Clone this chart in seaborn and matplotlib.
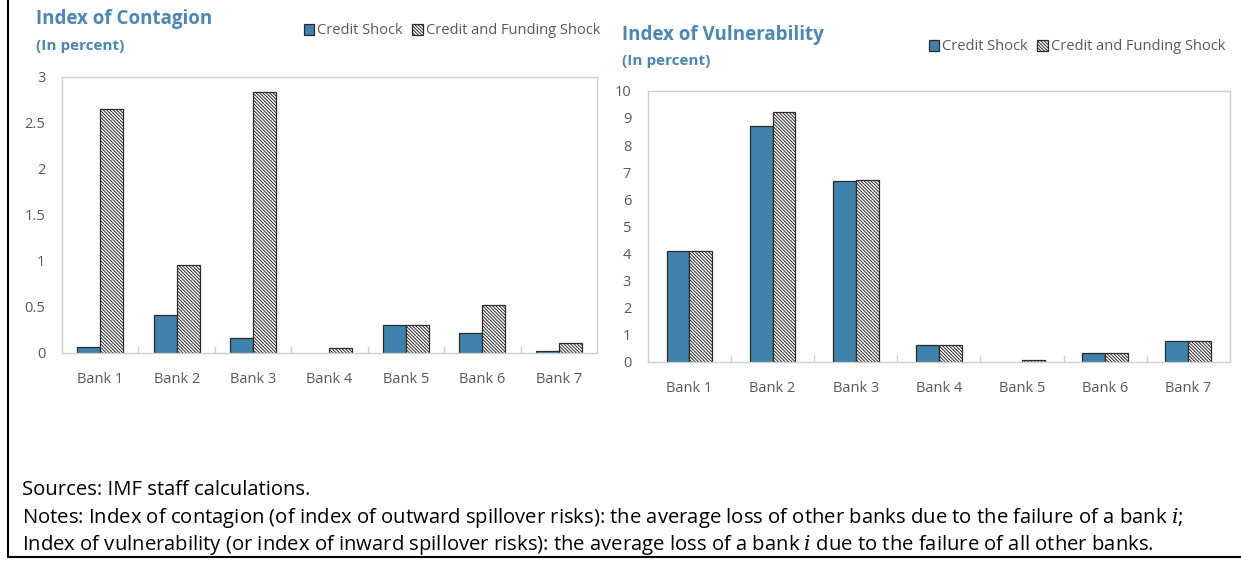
import numpy as np
import pandas as pd
import matplotlib
matplotlib.use('Agg')
import matplotlib.pyplot as plt
import seaborn as sns

"""two panel bar chart: index of contagion and index of vulnerability per bank"""

banks = ['Bank 1', 'Bank 2', 'Bank 3', 'Bank 4', 'Bank 5', 'Bank 6', 'Bank 7']
series = ['Credit Shock', 'Credit and Funding Shock']

contagion_credit = [0.06, 0.41, 0.16, 0.0, 0.30, 0.22, 0.02]
contagion_funding = [2.65, 0.95, 2.84, 0.05, 0.30, 0.52, 0.11]

vulnerability_credit = [4.1, 8.7, 6.67, 0.62, 0.0, 0.33, 0.78]
vulnerability_funding = [4.1, 9.22, 6.72, 0.62, 0.07, 0.33, 0.78]

contagion_ticks = [0, 0.5, 1, 1.5, 2, 2.5, 3]
contagion_labels = ['0', '0.5', '1', '1.5', '2', '2.5', '3']
vulnerability_ticks = list(range(0, 11))

blue = '#3f82ab'
title_blue = '#4a87b8'
grey_text = '#595959'

sns.set_theme(style='white')
plt.rcParams['font.family'] = ['Open Sans', 'DejaVu Sans']
plt.rcParams['hatch.linewidth'] = 0.7
plt.rcParams['hatch.color'] = '#222222'
plt.rcParams['mathtext.fontset'] = 'custom'
plt.rcParams['mathtext.it'] = 'DejaVu Serif:italic'
plt.rcParams['mathtext.rm'] = 'Open Sans'


def make_frame(credit, funding):
    """long form data for seaborn"""
    return pd.DataFrame({
        'bank': banks * 2,
        'value': list(credit) + list(funding),
        'shock': [series[0]] * len(banks) + [series[1]] * len(banks),
    })


def draw_panel(ax, df, width, ymax, ticks, labels):
    sns.barplot(data=df, x='bank', y='value', hue='shock', order=banks, hue_order=series,
                palette=[blue, 'white'], saturation=1, width=width, dodge=True, errorbar=None,
                edgecolor='#2b2b2b', linewidth=0.9, ax=ax, legend=False)
    for bar in ax.containers[1]:
        bar.set_hatch('\\' * 10)
    # zero bars should not leave an outline on the axis
    for cont in ax.containers:
        for bar in cont:
            if bar.get_height() == 0:
                bar.set_linewidth(0)
    ax.set_xlim(-0.5, len(banks) - 0.5)
    ax.set_ylim(0, ymax)
    ax.set_yticks(ticks)
    ax.set_yticklabels(labels)
    ax.set_xlabel('')
    ax.set_ylabel('')
    ax.set_xticks(range(len(banks)))
    ax.set_xticks(np.arange(0.5, len(banks) - 1, 1.0), minor=True)
    ax.tick_params(axis='x', which='major', length=0, pad=14, labelsize=10.5, labelcolor=grey_text)
    ax.tick_params(axis='x', which='minor', length=5, direction='in', color='#d0d0d0', bottom=True)
    ax.tick_params(axis='y', length=0, pad=12, labelsize=10.5, labelcolor=grey_text)
    for s in ax.spines.values():
        s.set_color('#d0d0d0')
        s.set_linewidth(1.0)


fig = plt.figure(figsize=(12.41, 5.61), dpi=100)

ax1 = fig.add_axes([0.050, 0.371, 0.431, 0.492])
draw_panel(ax1, make_frame(contagion_credit, contagion_funding), 0.6, 3,
           contagion_ticks, contagion_labels)

ax2 = fig.add_axes([0.522, 0.355, 0.469, 0.483])
draw_panel(ax2, make_frame(vulnerability_credit, vulnerability_funding), 0.55, 10,
           vulnerability_ticks, [str(t) for t in vulnerability_ticks])

# titles
fig.text(36 / 1241, 1 - 19 / 561, 'Index of Contagion', color=title_blue, fontsize=13.5,
         fontweight='bold', va='center', ha='left')
fig.text(36 / 1241, 1 - 46 / 561, '(In percent)', color=title_blue, fontsize=11,
         fontweight='bold', va='center', ha='left')
fig.text(622 / 1241, 1 - 35 / 561, 'Index of Vulnerability', color=title_blue, fontsize=13.5,
         fontweight='bold', va='center', ha='left')
fig.text(622 / 1241, 1 - 61 / 561, '(In percent)', color=title_blue, fontsize=11,
         fontweight='bold', va='center', ha='left')

# legends
for ax, anchor in [(ax1, (600 / 1241, 1 - 31 / 561)), (ax2, (1225 / 1241, 1 - 47 / 561))]:
    handles = [ax.containers[0][0], ax.containers[1][0]]
    fig.legend(handles, series, loc='center right', bbox_to_anchor=anchor, ncol=2,
               frameon=False, fontsize=10.5, handlelength=0.75, handleheight=0.75,
               handletextpad=0.2, columnspacing=0.6, labelcolor=grey_text,
               borderaxespad=0, borderpad=0)

# footer notes
fig.text(22 / 1241, 1 - 490 / 561, 'Sources: IMF staff calculations.', fontsize=14.6,
         va='center', ha='left', color='black')
fig.text(22 / 1241, 1 - 518 / 561,
         'Notes: Index of contagion (of index of outward spillover risks): the average loss of other banks '
         'due to the failure of a bank $\\mathit{i}$;',
         fontsize=14.6, va='center', ha='left', color='black')
fig.text(22 / 1241, 1 - 545 / 561,
         'Index of vulnerability (or index of inward spillover risks): the average loss of a bank '
         '$\\mathit{i}$ due to the failure of all other banks.',
         fontsize=14.6, va='center', ha='left', color='black')

# outer border lines (left and bottom)
fig.add_artist(plt.Line2D([8 / 1241, 8 / 1241], [4 / 561, 1], transform=fig.transFigure,
                          color='black', linewidth=1.5))
fig.add_artist(plt.Line2D([8 / 1241, 1], [4 / 561, 4 / 561], transform=fig.transFigure,
                          color='black', linewidth=1.5))

fig.savefig('out.png', dpi=100)
